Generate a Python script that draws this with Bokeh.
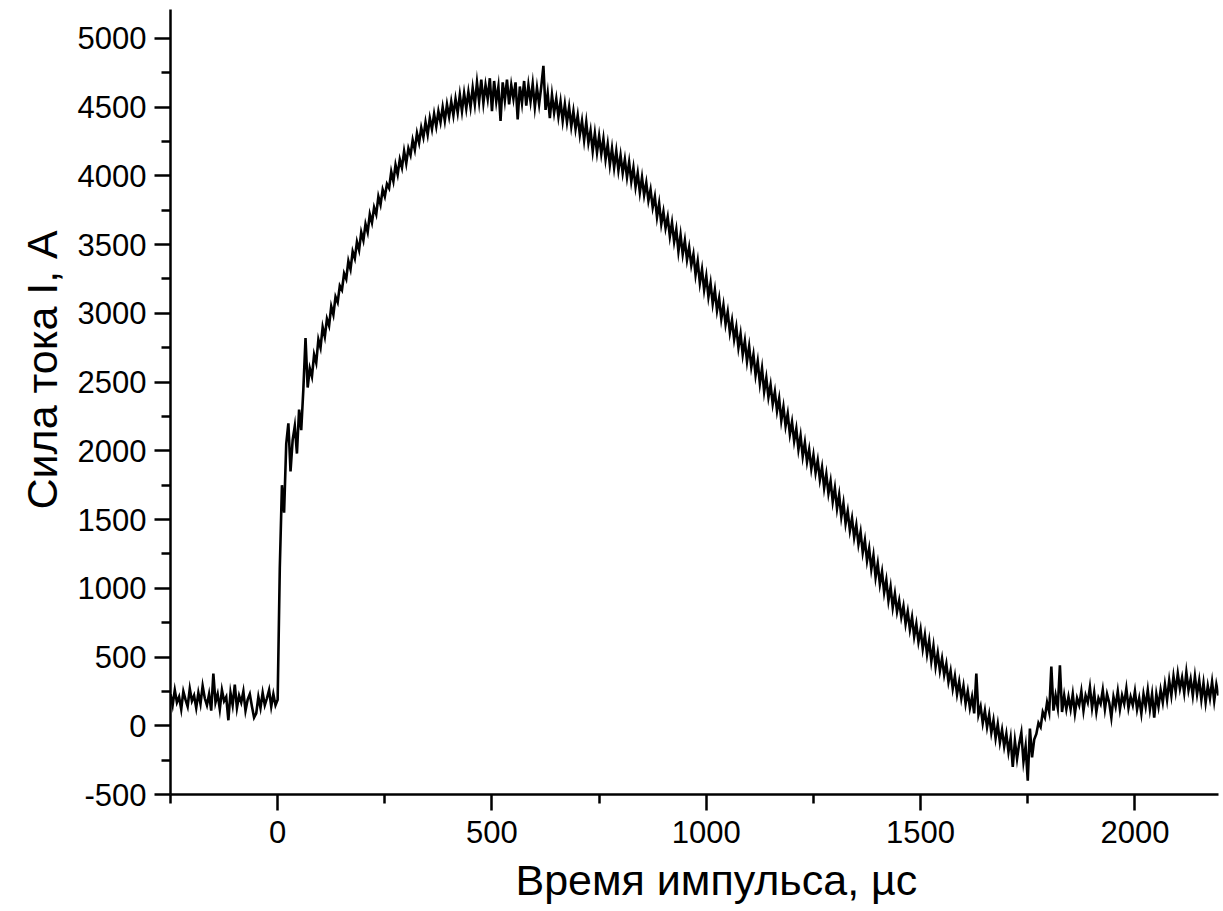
from bokeh.plotting import figure
from bokeh.models import Range1d, ColumnDataSource, FixedTicker, Title
from bokeh.embed import file_html
from bokeh.resources import INLINE

# Sampling times (µs), one sample every 5 µs from -250 to 2195
time_us = list(range(-250, 2200, 5))

# Current (A), 20 samples (100 µs) per row
current_a = [
    230, 150, 260, 170, 210, 120, 250, 190, 140, 270, 180, 220, 130, 240, 160, 290, 200, 150, 230, 110,
    380, 170, 230, 120, 260, 180, 210, 40, 240, 150, 300, 130, 220, 170, 250, 110, 190, 230, 140, 60,
    90, 210, 130, 240, 150, 200, 260, 140, 230, 150, 190, 1150, 1750, 1550, 2050, 2200, 1850, 2080, 2180, 1980,
    2300, 2150, 2450, 2820, 2460, 2600, 2540, 2700, 2640, 2810, 2750, 2900, 2830, 2960, 2910, 3050, 2990, 3120, 3080, 3200,
    3170, 3290, 3250, 3380, 3320, 3450, 3400, 3520, 3460, 3590, 3530, 3650, 3590, 3720, 3660, 3770, 3720, 3850, 3790, 3900,
    3850, 3940, 3910, 4030, 3960, 4080, 4010, 4120, 4060, 4180, 4090, 4200, 4150, 4260, 4190, 4310, 4240, 4350, 4280, 4390,
    4300, 4420, 4340, 4450, 4360, 4470, 4390, 4500, 4400, 4520, 4430, 4540, 4440, 4560, 4460, 4590, 4470, 4600, 4490, 4610,
    4500, 4640, 4520, 4680, 4540, 4700, 4530, 4660, 4560, 4710, 4470, 4690, 4540, 4650, 4400, 4680, 4550, 4700, 4520, 4660,
    4560, 4680, 4410, 4650, 4530, 4690, 4510, 4660, 4540, 4670, 4500, 4640, 4520, 4650, 4800, 4480, 4600, 4420, 4590, 4460,
    4560, 4430, 4540, 4400, 4520, 4390, 4500, 4360, 4470, 4340, 4440, 4300, 4400, 4260, 4390, 4240, 4330, 4180, 4310, 4170,
    4290, 4160, 4270, 4120, 4230, 4080, 4200, 4060, 4180, 4040, 4150, 4020, 4120, 3990, 4100, 3960, 4060, 3920, 4020, 3880,
    3990, 3860, 3950, 3820, 3900, 3770, 3850, 3700, 3800, 3650, 3740, 3620, 3700, 3560, 3660, 3520, 3610, 3450, 3570, 3430,
    3530, 3390, 3480, 3350, 3430, 3280, 3380, 3220, 3320, 3170, 3270, 3120, 3220, 3070, 3170, 3020, 3110, 2960, 3060, 2920,
    3010, 2860, 2950, 2810, 2900, 2750, 2850, 2700, 2800, 2650, 2760, 2610, 2700, 2550, 2650, 2490, 2600, 2430, 2530, 2390,
    2480, 2340, 2430, 2290, 2380, 2220, 2320, 2180, 2270, 2120, 2210, 2070, 2160, 2010, 2110, 1960, 2060, 1920, 2010, 1870,
    1970, 1840, 1930, 1790, 1880, 1730, 1830, 1690, 1780, 1630, 1730, 1580, 1680, 1520, 1620, 1470, 1560, 1420, 1510, 1370,
    1460, 1320, 1410, 1260, 1350, 1200, 1290, 1140, 1240, 1080, 1180, 1030, 1120, 970, 1060, 910, 1010, 860, 960, 830,
    910, 790, 870, 740, 830, 700, 790, 650, 740, 610, 700, 560, 660, 520, 620, 470, 580, 430, 530, 400,
    490, 370, 450, 320, 400, 270, 360, 230, 320, 200, 290, 160, 250, 130, 210, 90, 380, 80, 140, 20,
    110, -10, 80, -50, 40, -90, 10, -120, -30, -150, -60, -190, -90, -300, -110, -240, -130, -50, -260, -150,
    -400, -20, -230, -100, -60, 20, -10, 100, 60, 170, 100, 430, 110, 220, 130, 440, 100, 220, 120, 210,
    120, 230, 90, 200, 150, 250, 110, 220, 170, 280, 130, 240, 100, 200, 160, 260, 120, 230, 170, 60,
    210, 140, 250, 120, 220, 160, 270, 130, 210, 150, 250, 120, 200, 90, 230, 140, 260, 120, 230, 60,
    230, 140, 260, 170, 300, 190, 330, 220, 360, 250, 380, 270, 350, 240, 390, 260, 340, 220, 360, 230,
    330, 190, 310, 170, 290, 200, 320, 180, 300, 220,
]

x_ticks = [0, 500, 1000, 1500, 2000]
y_ticks = [-500, 0, 500, 1000, 1500, 2000, 2500, 3000, 3500, 4000, 4500, 5000]
x_label = "Время импульса, µс"
y_label = "Сила тока I, А"

src = ColumnDataSource(data=dict(t=time_us[:len(current_a)], i=current_a))

p = figure(
    width=1223, height=911,
    x_range=Range1d(-250, 2195), y_range=Range1d(-500, 5210),
    output_backend="svg", toolbar_location=None,
    min_border_left=170, min_border_right=5, min_border_top=9, min_border_bottom=117,
)
p.line("t", "i", source=src, line_color="black", line_width=2.6, line_join="miter")

p.outline_line_color = None
p.grid.visible = False
p.background_fill_color = "white"
p.border_fill_color = "white"

p.xaxis.ticker = FixedTicker(ticks=x_ticks, minor_ticks=[t + 250 for t in [-500] + x_ticks])
p.yaxis.ticker = FixedTicker(ticks=y_ticks, minor_ticks=[t + 250 for t in y_ticks])
p.yaxis.major_label_overrides = {t: str(t) for t in y_ticks}
p.xaxis.major_label_overrides = {t: str(t) for t in x_ticks}

for ax in (p.xaxis[0], p.yaxis[0]):
    ax.axis_line_width = 2.5
    ax.axis_line_color = "black"
    ax.major_tick_line_width = 2.5
    ax.minor_tick_line_width = 2.5
    ax.major_tick_out = 16
    ax.major_tick_in = 0
    ax.minor_tick_out = 9
    ax.minor_tick_in = 0
    ax.major_label_text_font = "Liberation Sans"
    ax.major_label_text_font_size = "31px"
    ax.major_label_text_color = "black"

p.xaxis.major_label_standoff = 10
p.yaxis.major_label_standoff = 8

p.add_layout(Title(text=x_label, align="left", offset=345, standoff=16,
                   text_font="Liberation Sans", text_font_size="43px", text_font_style="normal",
                   text_color="black"), "below")
p.add_layout(Title(text=y_label, align="left", offset=285, standoff=14, vertical_align="top",
                   text_font="Liberation Sans", text_font_size="43px", text_font_style="normal",
                   text_color="black"), "left")

open("out.html", "w").write(file_html(p, INLINE))
